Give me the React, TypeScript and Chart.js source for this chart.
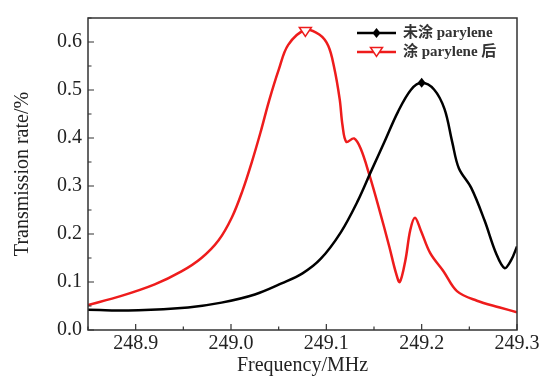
import React, { useEffect, useRef } from "react";
import { Chart, registerables } from "chart.js";
Chart.register(...registerables);

const redFreq = [248.85, 248.885, 248.92, 248.948, 248.969, 248.987, 249.001, 249.012, 249.022, 249.031, 249.04, 249.05, 249.06, 249.078, 249.093, 249.102, 249.108, 249.114, 249.117, 249.121, 249.129, 249.136, 249.145, 249.155, 249.166, 249.173, 249.177, 249.183, 249.188, 249.193, 249.199, 249.209, 249.223, 249.237, 249.258, 249.282, 249.3];
const redTrans = [0.052, 0.071, 0.095, 0.122, 0.150, 0.187, 0.235, 0.290, 0.351, 0.412, 0.478, 0.542, 0.594, 0.625, 0.615, 0.592, 0.549, 0.481, 0.426, 0.392, 0.399, 0.378, 0.324, 0.255, 0.174, 0.119, 0.100, 0.146, 0.208, 0.234, 0.208, 0.160, 0.122, 0.081, 0.061, 0.047, 0.037];
const blackFreq = [248.85, 248.903, 248.955, 248.99, 249.025, 249.053, 249.075, 249.094, 249.115, 249.133, 249.147, 249.161, 249.175, 249.189, 249.2, 249.213, 249.224, 249.232, 249.239, 249.252, 249.266, 249.278, 249.287, 249.294, 249.3];
const blackTrans = [0.042, 0.041, 0.047, 0.057, 0.074, 0.097, 0.118, 0.148, 0.203, 0.269, 0.331, 0.392, 0.454, 0.501, 0.515, 0.501, 0.460, 0.392, 0.337, 0.296, 0.228, 0.160, 0.129, 0.146, 0.174];
const redPeakIndex = 13;
const blackPeakIndex = 14;
const xTicks = [248.9, 249.0, 249.1, 249.2, 249.3];
const xMinor = [248.85, 248.95, 249.05, 249.15, 249.25];
const yTicks = [0, 0.1, 0.2, 0.3, 0.4, 0.5, 0.6];
const yMinor = [0.05, 0.15, 0.25, 0.35, 0.45, 0.55, 0.65];
const seriesLabels = ["未涂 parylene", "涂 parylene 后"];

const SERIF = "'Liberation Serif', 'Times New Roman', 'Noto Sans CJK SC', serif";

function drawDiamond(ctx: CanvasRenderingContext2D, x: number, y: number, r: number) {
  ctx.beginPath();
  ctx.moveTo(x, y - r);
  ctx.lineTo(x + r * 0.8, y);
  ctx.lineTo(x, y + r);
  ctx.lineTo(x - r * 0.8, y);
  ctx.closePath();
  ctx.fillStyle = "#000";
  ctx.fill();
}
function drawTri(ctx: CanvasRenderingContext2D, x: number, y: number, r: number) {
  ctx.beginPath();
  ctx.moveTo(x - r, y - r * 0.6);
  ctx.lineTo(x + r, y - r * 0.6);
  ctx.lineTo(x, y + r * 0.9);
  ctx.closePath();
  ctx.fillStyle = "#fff";
  ctx.fill();
  ctx.strokeStyle = "#ee1c1c";
  ctx.lineWidth = 1.5;
  ctx.stroke();
}

const framePlugin = {
  id: "frame",
  afterDraw(chart: any) {
    const { ctx, chartArea: a, scales } = chart;
    const xs = scales.x, ys = scales.y;
    ctx.save();
    ctx.strokeStyle = "#333";
    ctx.lineWidth = 1.5;
    ctx.strokeRect(a.left, a.top, a.right - a.left, a.bottom - a.top);
    ctx.lineWidth = 1.2;
    ctx.beginPath();
    xTicks.forEach((v) => { const p = xs.getPixelForValue(v); ctx.moveTo(p, a.bottom); ctx.lineTo(p, a.bottom - 6); });
    xMinor.forEach((v) => { const p = xs.getPixelForValue(v); ctx.moveTo(p, a.bottom); ctx.lineTo(p, a.bottom - 3.5); });
    yTicks.forEach((v) => { const p = ys.getPixelForValue(v); ctx.moveTo(a.left, p); ctx.lineTo(a.left + 6, p); });
    yMinor.forEach((v) => { const p = ys.getPixelForValue(v); ctx.moveTo(a.left, p); ctx.lineTo(a.left + 3.5, p); });
    ctx.stroke();

    // legend
    const lx0 = 357, lx1 = 396, rows = [33, 52];
    ctx.lineWidth = 2.5;
    ctx.strokeStyle = "#000";
    ctx.beginPath(); ctx.moveTo(lx0, rows[0]); ctx.lineTo(lx1, rows[0]); ctx.stroke();
    drawDiamond(ctx, (lx0 + lx1) / 2, rows[0], 5);
    ctx.strokeStyle = "#ee1c1c";
    ctx.lineWidth = 2.5;
    ctx.beginPath(); ctx.moveTo(lx0, rows[1]); ctx.lineTo(lx1, rows[1]); ctx.stroke();
    drawTri(ctx, (lx0 + lx1) / 2, rows[1] - 1, 6);
    ctx.fillStyle = "#333";
    ctx.font = `bold 15px ${SERIF}`;
    ctx.textBaseline = "middle";
    ctx.textAlign = "left";
    ctx.fillText(seriesLabels[0], 403, rows[0]);
    ctx.fillText(seriesLabels[1], 403, rows[1]);

    // peak markers
    drawDiamond(ctx, xs.getPixelForValue(blackFreq[blackPeakIndex]), ys.getPixelForValue(blackTrans[blackPeakIndex]), 5);
    drawTri(ctx, xs.getPixelForValue(redFreq[redPeakIndex]), ys.getPixelForValue(redTrans[redPeakIndex]) + 1, 6);
    ctx.restore();
  },
};

export default function App() {
  const ref = useRef<HTMLCanvasElement>(null);
  useEffect(() => {
    document.body.style.margin = "0";
    const chart = new Chart(ref.current!, {
      type: "line",
      data: {
        datasets: [
          {
            label: seriesLabels[0],
            data: blackFreq.map((x, i) => ({ x, y: blackTrans[i] })),
            borderColor: "#000",
            borderWidth: 2.5,
            pointRadius: 0,
            tension: 0.35,
          },
          {
            label: seriesLabels[1],
            data: redFreq.map((x, i) => ({ x, y: redTrans[i] })),
            borderColor: "#ee1c1c",
            borderWidth: 2.5,
            pointRadius: 0,
            tension: 0.35,
          },
        ],
      },
      options: {
        animation: false,
        responsive: false,
        layout: { padding: { top: 12, right: 29, left: 0, bottom: 0 } },
        plugins: { legend: { display: false }, tooltip: { enabled: false } },
        scales: {
          x: {
            type: "linear",
            min: 248.85,
            max: 249.3,
            grid: { display: false, drawTicks: false },
            border: { display: false },
            afterBuildTicks: (s: any) => { s.ticks = xTicks.map((v) => ({ value: v })); },
            afterFit: (s: any) => { s.height = 48; },
            ticks: { color: "#222", font: { family: SERIF, size: 20 }, padding: 2, maxRotation: 0, callback: (v: any) => Number(v).toFixed(1) },
            title: { display: true, text: "Frequency/MHz", color: "#222", font: { family: SERIF, size: 20 }, padding: { top: 0, bottom: 0 } },
          },
          y: {
            min: 0,
            max: 0.65,
            grid: { display: false, drawTicks: false },
            border: { display: false },
            afterBuildTicks: (s: any) => { s.ticks = yTicks.map((v) => ({ value: v })); },
            afterFit: (s: any) => { s.width = 88; },
            ticks: { color: "#222", font: { family: SERIF, size: 20 }, padding: 6, callback: (v: any) => Number(v).toFixed(1) },
            title: { display: true, text: "Transmission rate/%", color: "#222", font: { family: SERIF, size: 20 }, padding: { top: 11, bottom: 2 } },
          },
        },
      },
      plugins: [framePlugin],
    });
    return () => chart.destroy();
  }, []);
  return (
    <div style={{ position: "absolute", left: 0, top: 0, width: 546, height: 378, background: "#fff" }}>
      <canvas ref={ref} width={546} height={378} />
    </div>
  );
}
